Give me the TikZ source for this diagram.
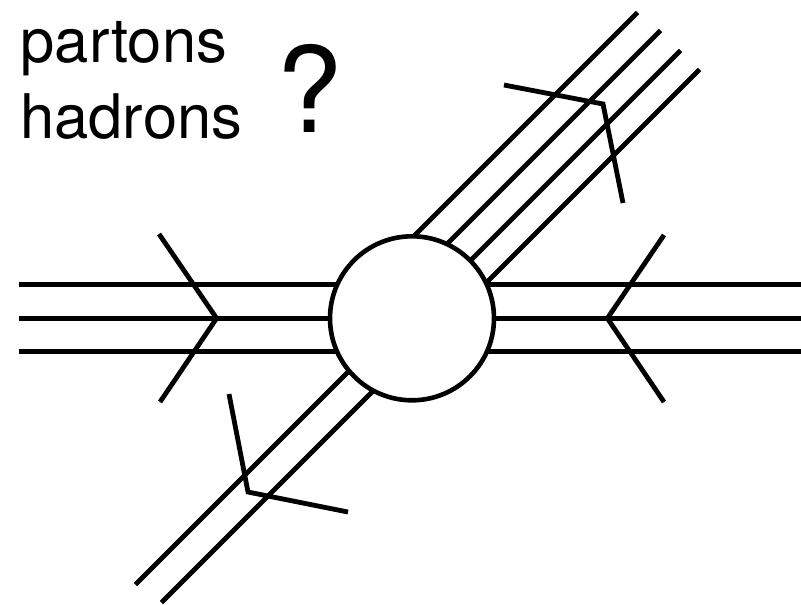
\documentclass[tikz,border=0pt]{standalone}
\usepackage{fontspec}
\setmainfont{TeX Gyre Heros}
\begin{document}
\begin{tikzpicture}[x=1pt,y=-1pt,
  leg/.style={line width=4.8pt,line cap=butt},
  arrowmark/.style={line width=4.8pt,line join=miter,line cap=butt},
  blobstyle/.style={circle,draw,fill=white,line width=4.6pt,minimum size=164pt,inner sep=0pt},
  lbl/.style={inner sep=0pt,anchor=base west,font=\fontsize{61.5}{72}\selectfont}]
\useasboundingbox (0,0) rectangle (801,605);
% horizontal lines
\coordinate (c) at (412,318.3);
\coordinate (l1) at (19,284.8);  \coordinate (r1) at (801,284.8);
\coordinate (l2) at (19,318.3);  \coordinate (r2) at (801,318.3);
\coordinate (l3) at (19,351.8);  \coordinate (r3) at (801,351.8);
\draw[leg] (l1) -- (r1);
\draw[leg] (l2) -- (r2);
\draw[leg] (l3) -- (r3);
% diagonal lines (upper right)
\coordinate (u1) at (637.5,12.5);  \coordinate (u1i) at (371.8,278.2);
\coordinate (u2) at (660.5,30.5);  \coordinate (u2i) at (392.3,298.7);
\coordinate (u3) at (680.5,50.5);  \coordinate (u3i) at (412.3,318.7);
\coordinate (u4) at (699.5,69.5);  \coordinate (u4i) at (431.3,337.7);
\draw[leg] (u1) -- (u1i);
\draw[leg] (u2) -- (u2i);
\draw[leg] (u3) -- (u3i);
\draw[leg] (u4) -- (u4i);
% diagonal lines (lower left)
\coordinate (d1) at (135.5,584.5); \coordinate (d1i) at (406.8,313.2);
\coordinate (d2) at (161.5,602.5); \coordinate (d2i) at (428.8,335.2);
\draw[leg] (d1) -- (d1i);
\draw[leg] (d2) -- (d2i);
% central blob
\node[blobstyle] (blob) at (c) {};
% arrow marks
\coordinate (la) at (159,234);   \coordinate (lt) at (216.6,318.3); \coordinate (lb) at (160,402);
\draw[arrowmark] (la) -- (lt) -- (lb);
\coordinate (ra) at (664,235);   \coordinate (rt) at (607.4,318.3); \coordinate (rb) at (664,402);
\draw[arrowmark] (ra) -- (rt) -- (rb);
\coordinate (ua) at (504,85);    \coordinate (ut) at (603,104);     \coordinate (ub) at (623,203);
\draw[arrowmark] (ua) -- (ut) -- (ub);
\coordinate (da) at (229,394);   \coordinate (dt) at (248,492);     \coordinate (db) at (348,512);
\draw[arrowmark] (da) -- (dt) -- (db);
% labels
\node[lbl] (partons) at (20.5,62) {partons};
\node[lbl] (hadrons) at (20,138) {hadrons};
\node[inner sep=0pt,anchor=base west,font=\fontsize{119}{130}\selectfont] (q) at (276.3,132) {?};
\end{tikzpicture}
\end{document}
